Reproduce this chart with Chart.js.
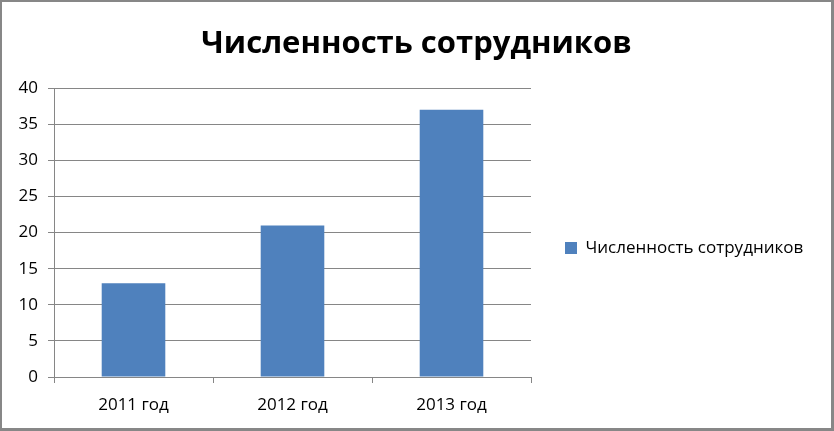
<!DOCTYPE html>
<html>
<head>
<meta charset="utf-8">
<script src="https://cdn.jsdelivr.net/npm/chart.js@4"></script>
<style>
  html, body { margin: 0; padding: 0; background: #fff; }
  .frame {
    width: 834px; height: 431px; box-sizing: border-box;
    border-style: solid; border-color: #878787;
    border-width: 2px 3px 3px 2px;
    background: #fff;
  }
  .frame canvas { display: block; }
</style>
</head>
<body>
<div class="frame"><canvas id="chart" width="829" height="426"></canvas></div>
<script>
// ===== DATA =====
const titleText = 'Численность сотрудников';
const years = ['2011 год', '2012 год', '2013 год'];
const staffCount = [13, 21, 37];
const seriesName = 'Численность сотрудников';
const yMax = 40;
const yStep = 5;

const FONT = '"Open Sans", "DejaVu Sans", sans-serif';
const gray = '#868686';
const legendFont = { family: FONT, size: 17 };
const legendGap = 34;

// legend width = gap + box + text gap + text + 10, keep plot right edge at 529
const canvas = document.getElementById('chart');
const ctx = canvas.getContext('2d');
ctx.font = legendFont.size + 'px ' + FONT;
const legendW = legendGap + 12 + legendFont.size / 2 + ctx.measureText(seriesName).width + 10;
const padRight = Math.max(0, canvas.width - 529 - legendW);

// title centred on whole frame, legend item moved down like the original
const layoutTweaks = {
  id: 'layoutTweaks',
  afterLayout(chart) {
    chart.titleBlock.left = 0;
    chart.titleBlock.right = chart.width;
    chart.legend.top += 33;
    chart.legend.bottom += 33;
  }
};

const chart = new Chart(ctx, {
  type: 'bar',
  data: {
    labels: years,
    datasets: [{
      label: seriesName,
      data: staffCount,
      backgroundColor: '#4F81BD',
      borderWidth: 0,
      categoryPercentage: 1,
      barPercentage: 0.4
    }]
  },
  options: {
    responsive: false,
    animation: false,
    layout: { padding: { left: 0, right: padRight, top: 0, bottom: 0 } },
    plugins: {
      title: {
        display: true,
        text: titleText,
        color: '#000',
        font: { family: FONT, size: 31, weight: 'bold' },
        padding: { top: 24, bottom: 25 }
      },
      legend: {
        position: 'right',
        maxWidth: 320,
        labels: {
          color: '#000',
          font: legendFont,
          boxWidth: 12,
          boxHeight: 12,
          padding: legendGap
        }
      },
      tooltip: { enabled: false }
    },
    scales: {
      x: {
        grid: { display: true, offset: true, drawOnChartArea: false, drawTicks: true, tickLength: 6, color: gray },
        border: { display: true, color: gray },
        ticks: { color: '#000', font: { family: FONT, size: 17 }, padding: 12 },
        afterFit: s => { s.height = 51; }
      },
      y: {
        min: 0,
        max: yMax,
        grid: { color: gray, tickLength: 6 },
        border: { display: true, color: gray },
        ticks: { stepSize: yStep, color: '#000', font: { family: FONT, size: 17 }, padding: 10 },
        afterFit: s => { s.width = 52; }
      }
    }
  },
  plugins: [layoutTweaks]
});
</script>
</body>
</html>
